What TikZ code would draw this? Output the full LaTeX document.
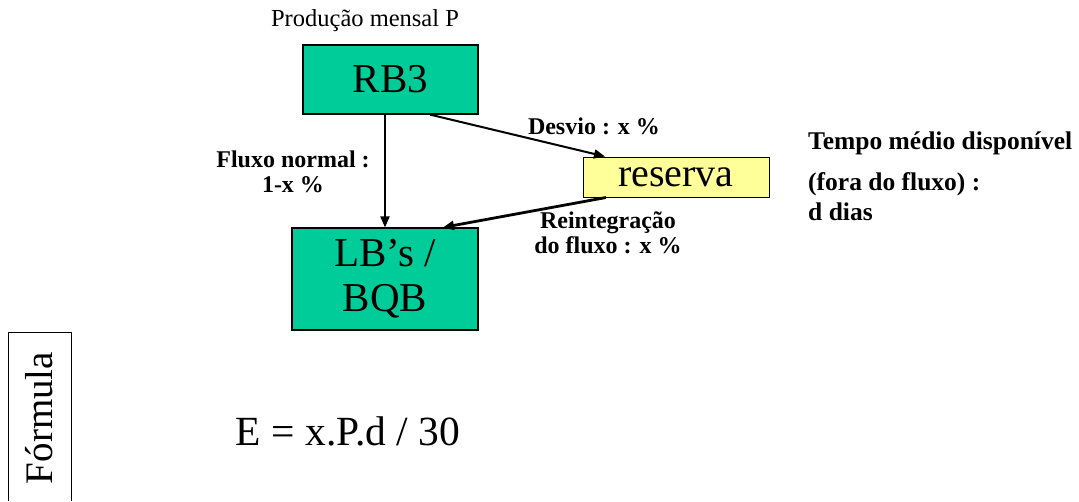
\documentclass[tikz,border=0pt]{standalone}
\usepackage{fontspec}
\setmainfont{Liberation Serif}
\usetikzlibrary{arrows.meta,calc}
\definecolor{boxgreen}{HTML}{00CC99}
\definecolor{boxyellow}{HTML}{FFFF99}
\begin{document}
\begin{tikzpicture}[x=1pt,y=-1pt,
  stage/.style={draw=black,line width=1.2pt,fill=boxgreen,inner sep=0pt,
    font=\fontsize{41}{45}\selectfont,align=center},
  store/.style={draw=black,line width=1pt,fill=boxyellow,inner sep=0pt,
    font=\fontsize{40}{40}\selectfont},
  lbl/.style={inner sep=0pt,font=\bfseries\fontsize{24}{25}\selectfont,align=center},
  flow/.style={line width=2pt,-{Triangle[length=11pt,width=9pt]}}]
\useasboundingbox (0,0) rectangle (1079,501);
\fill[white] (0,0) rectangle (1079,501);

% process blocks
\node[stage,minimum width=175pt,minimum height=69pt] (rb3) at (390.5,79.5) {RB3};
\node[stage,minimum width=186pt,minimum height=102pt] (lb) at (385,279) {\raisebox{-3pt}{LB’s /}\\\raisebox{-3pt}{BQB}};
\node[store,minimum width=186pt,minimum height=40pt] (res) at (676,177) {\raisebox{-3pt}{reserva}};

% flows
\draw[flow] (rb3.south -| lb.north) -- (lb.north);
\draw[flow] ([xshift=39.5pt]rb3.south) -- ([xshift=-71pt]res.north);
\draw[flow,line width=2.8pt] ([xshift=-70pt]res.south) -- ([xshift=58pt]lb.north);

% labels
\node[inner sep=0pt,font=\fontsize{24.5}{26}\selectfont] (prod) at (365,21) {Produção mensal P};
\node[lbl] (desvio) at (594,126) {Desvio : x \%};
\node[lbl] (fluxo) at (293,172) {Fluxo normal :\\1-x \%};
\node[lbl] (reint) at (608,233) {Reintegração\\do fluxo : x \%};
\node[lbl,align=left,anchor=north west,font=\bfseries\fontsize{25.5}{30}\selectfont] (tempo) at (808,132)
  {Tempo médio disponível\\[11pt](fora do fluxo) :\\d dias};

% formula panel
\draw[line width=1pt] (8,501) -- (8,332) -- (71,332) -- (71,501);
\node[inner sep=0pt,rotate=90,font=\fontsize{39}{42}\selectfont] (ftitle) at (39,418) {Fórmula};
\node[inner sep=0pt,font=\fontsize{41.5}{44}\selectfont] (formula) at (348,431) {E = x.P.d / 30};
\end{tikzpicture}
\end{document}
